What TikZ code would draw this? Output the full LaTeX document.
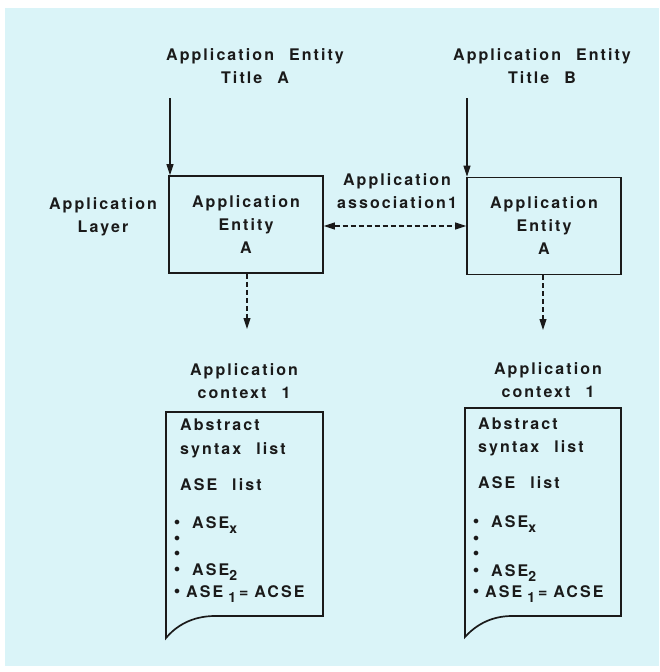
\documentclass[tikz,border=0pt]{standalone}
\usepackage{fontspec}
\setmainfont{TeX Gyre Heros}[LetterSpace=13]
\usetikzlibrary{arrows.meta}
\definecolor{bg}{HTML}{DAF4F8}
\definecolor{ink}{HTML}{1A1A1A}
\newcommand{\mybul}{\raisebox{2.3pt}{\fontsize{12}{12}\selectfont$\bullet$}}
\newcommand{\mysub}[1]{\raisebox{-5pt}{\fontsize{14}{14}\selectfont #1}}
\newcommand{\wsp}{\hspace{15pt}}
\begin{document}
\begin{tikzpicture}[x=1pt,y=-1pt,
  txt/.style={font=\fontsize{16}{23}\selectfont\bfseries, text=ink, align=center, inner sep=0pt},
  lst/.style={font=\fontsize{16}{23}\selectfont\bfseries, text=ink, anchor=base west, inner sep=0pt},
  box/.style={draw=ink, line width=1.7pt, minimum width=154pt, minimum height=97pt},
  tip/.style={-{Triangle[length=11pt,width=7pt]}},
  arr/.style={draw=ink, line width=1.1pt, tip},
  darr/.style={arr, dash pattern=on 5pt off 3pt},
  doc/.style={draw=ink, line width=1.7pt, line join=miter}]

\useasboundingbox (0,0) rectangle (659,672);
\fill[white] (0,0) rectangle (659,672);
\fill[bg] (5,8) rectangle (659,666);

% titles
\node[txt] (tA) at (255,66) {Application\wsp Entity\\Title\wsp A};
\node[txt] (tB) at (542,66) {Application\wsp Entity\\Title\wsp B};

% entity boxes
\node[txt, box] (boxA) at (246,224.5) {Application\\Entity\\A};
\node[txt, box] (boxB) at (544,226) {Application\\Entity\\A};

% side labels
\node[txt] (layer) at (103,217) {Application\\Layer};
\node[txt] (assoc) at (397,191.5) {Application\\association1};

% title arrows
\coordinate (sA) at (170,98);
\coordinate (sB) at (467,98);
\draw[arr] (sA) -- (sA |- boxA.north);
\draw[arr] (sB) -- (sB |- boxB.north);

% association arrow
\coordinate (ay) at (0,226);
\draw[darr, {Triangle[length=11pt,width=7pt]}-{Triangle[length=11pt,width=7pt]}] (boxA.east |- ay) -- (boxB.west |- ay);

% down arrows
\coordinate (dA) at (247,329);
\coordinate (dB) at (543,330);
\draw[darr] (boxA.south -| dA) -- (dA);
\draw[darr] (boxB.south -| dB) -- (dB);

% context labels
\node[txt] (ctxA) at (244,381) {Application\\context\wsp 1};
\node[txt] (ctxB) at (548,380) {Application\\context\wsp 1};

% documents
\draw[doc] (166,412) -- (323,412) -- (323,616) -- (215,616)
  .. controls (192,616) and (176,626) .. (166,638) -- cycle;
\draw[doc] (465,408) -- (621,408) -- (621,616) -- (512,616)
  .. controls (489,616) and (474,627) .. (465,637) -- cycle;

% document A text
\node[lst] (a1) at (180,430.5) {Abstract};
\node[lst] (a2) at (180,454) {syntax\wsp list};
\node[lst] (a3) at (180,490) {ASE\wsp list};
\node[lst] (a4) at (174,528) {\mybul\hspace{12pt}ASE\mysub{x}};
\node[lst] (a5) at (174,543.5) {\mybul};
\node[lst] (a6) at (174,558.5) {\mybul};
\node[lst] (a7) at (174,575) {\mybul\hspace{12pt}ASE\mysub{2}};
\node[lst] (a8) at (174,597) {\mybul\hspace{6pt}ASE\hspace{5pt}\mysub{1}\hspace{3pt}=\hspace{6pt}ACSE};

% document B text
\node[lst] (b1) at (478,429.5) {Abstract};
\node[lst] (b2) at (478,452.5) {syntax\wsp list};
\node[lst] (b3) at (478,488.5) {ASE\wsp list};
\node[lst] (b4) at (473,527) {\mybul\hspace{12pt}ASE\mysub{x}};
\node[lst] (b5) at (473,543.5) {\mybul};
\node[lst] (b6) at (473,558.5) {\mybul};
\node[lst] (b7) at (473,576) {\mybul\hspace{12pt}ASE\mysub{2}};
\node[lst] (b8) at (473,597) {\mybul\hspace{6pt}ASE\hspace{5pt}\mysub{1}\hspace{3pt}=\hspace{6pt}ACSE};
\end{tikzpicture}
\end{document}
